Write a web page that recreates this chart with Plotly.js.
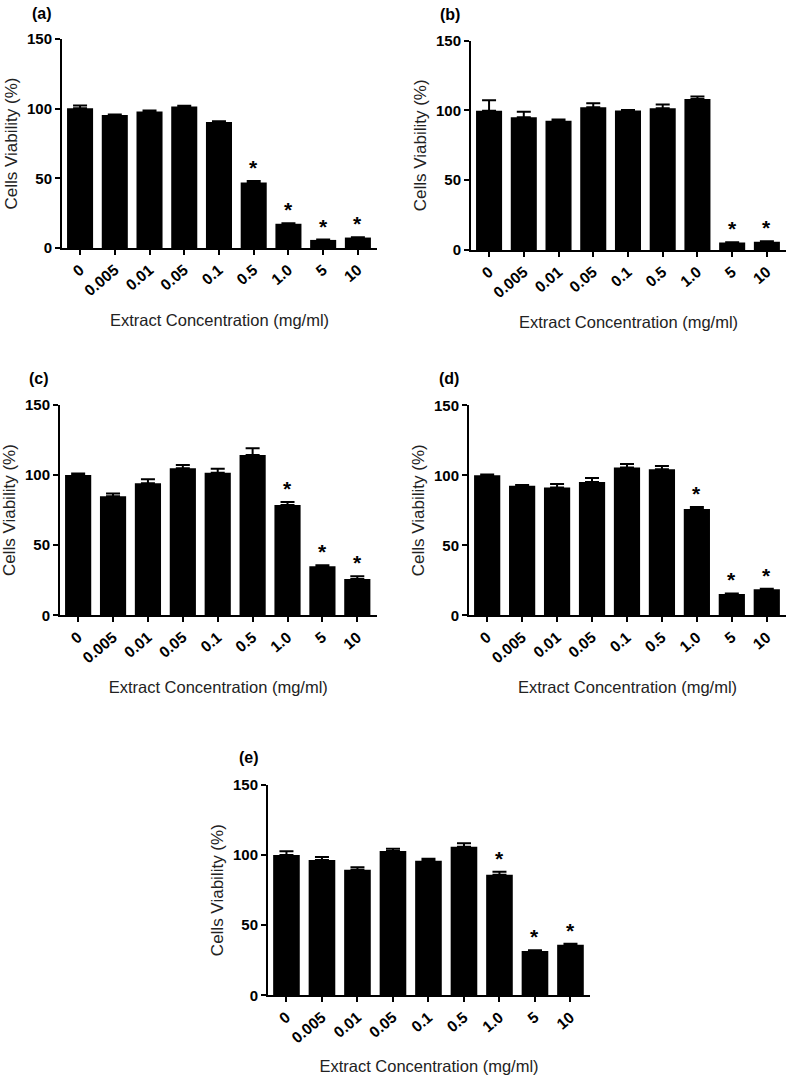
<!DOCTYPE html>
<html>
<head>
<meta charset="utf-8">
<script src="https://cdn.plot.ly/plotly-3.0.1.min.js"></script>
<style>html,body{margin:0;padding:0;background:#fff;}#chart{width:790px;height:1075px;}</style>
</head>
<body>
<div id="chart"></div>
<script>
// Categories (extract concentration, mg/ml)
const categories = ["0", "0.005", "0.01", "0.05", "0.1", "0.5", "1.0", "5", "10"];

// Panel (a)
const valuesA = [100.3, 95.5, 97.9, 101.5, 90.5, 47.0, 17.4, 5.8, 7.5];
const errorsA = [2.0, 0.4, 0.8, 0.6, 0.4, 1.0, 0.3, 0.3, 0.3];
const sigA    = [0, 0, 0, 0, 0, 1, 1, 1, 1];

// Panel (b)
const valuesB = [99.8, 95.2, 92.6, 102.3, 100.0, 101.6, 108.2, 5.3, 5.9];
const errorsB = [7.5, 3.8, 1.0, 2.8, 0.3, 2.6, 1.8, 0.3, 0.3];
const sigB    = [0, 0, 0, 0, 0, 0, 0, 1, 1];

// Panel (c)
const valuesC = [100.1, 84.9, 94.1, 104.8, 101.7, 114.3, 78.7, 34.9, 25.9];
const errorsC = [1.0, 2.0, 2.9, 2.4, 2.9, 4.8, 2.1, 0.8, 1.9];
const sigC    = [0, 0, 0, 0, 0, 0, 1, 1, 1];

// Panel (d)
const valuesD = [100.0, 92.6, 91.2, 95.2, 105.5, 104.3, 76.0, 15.3, 18.6];
const errorsD = [0.5, 0.5, 2.6, 2.9, 2.6, 2.4, 1.4, 0.3, 0.4];
const sigD    = [0, 0, 0, 0, 0, 0, 1, 1, 1];

// Panel (e)
const valuesE = [100.1, 96.5, 89.6, 102.9, 96.0, 105.9, 86.0, 31.6, 36.1];
const errorsE = [2.6, 2.1, 1.7, 1.7, 1.4, 2.6, 2.1, 0.5, 0.6];
const sigE    = [0, 0, 0, 0, 0, 0, 1, 1, 1];

const panelLabels = ["(a)", "(b)", "(c)", "(d)", "(e)"];
const yTicks = [0, 50, 100, 150];
const xTitle = "Extract Concentration (mg/ml)";
const yTitle = "Cells Viability (%)";

const panels = [
  {v: valuesA, e: errorsA, s: sigA, xd: [62, 377], yd: [39, 248], lab: [30, 14]},
  {v: valuesB, e: errorsB, s: sigB, xd: [471, 786], yd: [40.7, 250], lab: [438, 15]},
  {v: valuesC, e: errorsC, s: sigC, xd: [60, 376.5], yd: [405, 615.3], lab: [27, 378]},
  {v: valuesD, e: errorsD, s: sigD, xd: [469, 786], yd: [405.3, 615.3], lab: [437, 378]},
  {v: valuesE, e: errorsE, s: sigE, xd: [268, 590], yd: [785, 995.3], lab: [237, 757]}
];

const W = 790, H = 1075;
const FONT = "Liberation Sans, Arial, sans-serif";
const traces = [];
const layout = {
  width: W, height: H,
  margin: {l: 0, r: 0, t: 0, b: 0},
  paper_bgcolor: "#fff", plot_bgcolor: "#fff",
  showlegend: false,
  font: {family: FONT, color: "#000"},
  annotations: []
};

panels.forEach((p, i) => {
  const n = i === 0 ? "" : String(i + 1);
  const xa = "x" + n, ya = "y" + n;
  const idx = categories.map((c, k) => k);
  traces.push({
    type: "bar",
    x: idx, y: p.v,
    xaxis: xa, yaxis: ya,
    marker: {color: "#000", line: {width: 0}},
    width: 0.75,
    error_y: {type: "data", array: p.e, arrayminus: p.e.map(() => 0), symmetric: false,
              color: "#000", thickness: 2, width: 7},
    hoverinfo: "skip"
  });
  layout["xaxis" + n] = {
    domain: [p.xd[0] / W, p.xd[1] / W],
    anchor: ya,
    range: [-0.52, 8.55],
    tickvals: idx, ticktext: categories,
    showline: true, linecolor: "#000", linewidth: 2,
    ticks: "outside", ticklen: 5, tickwidth: 2, tickcolor: "#000",
    tickangle: -40,
    tickfont: {family: FONT, size: 15.5, color: "#000", weight: "bold"},
    showgrid: false, zeroline: false,
    title: {text: xTitle, font: {family: FONT, size: 16.5, color: "#222"}, standoff: 16}
  };
  layout["yaxis" + n] = {
    domain: [1 - p.yd[1] / H, 1 - p.yd[0] / H],
    anchor: xa,
    range: [0, 150],
    tickvals: yTicks,
    showline: true, linecolor: "#000", linewidth: 2,
    ticks: "outside", ticklen: 5, tickwidth: 2, tickcolor: "#000",
    tickfont: {family: FONT, size: 15, color: "#000", weight: "bold"},
    showgrid: false, zeroline: false,
    title: {text: yTitle, font: {family: FONT, size: 17, color: "#222"}, standoff: 5}
  };
  // significance stars
  p.s.forEach((flag, k) => {
    if (flag) {
      layout.annotations.push({
        xref: xa, yref: ya,
        x: k, y: p.v[k] + p.e[k],
        text: "*", showarrow: false,
        yanchor: "bottom", yshift: 0,
        font: {family: FONT, size: 21, color: "#000", weight: "bold"}
      });
    }
  });
  // panel label
  layout.annotations.push({
    xref: "paper", yref: "paper",
    x: p.lab[0] / W, y: 1 - p.lab[1] / H,
    xanchor: "left", yanchor: "middle",
    text: "<b>" + panelLabels[i] + "</b>", showarrow: false,
    font: {family: FONT, size: 16, color: "#000"}
  });
});

Plotly.newPlot("chart", traces, layout, {staticPlot: true, displayModeBar: false});
</script>
</body>
</html>
